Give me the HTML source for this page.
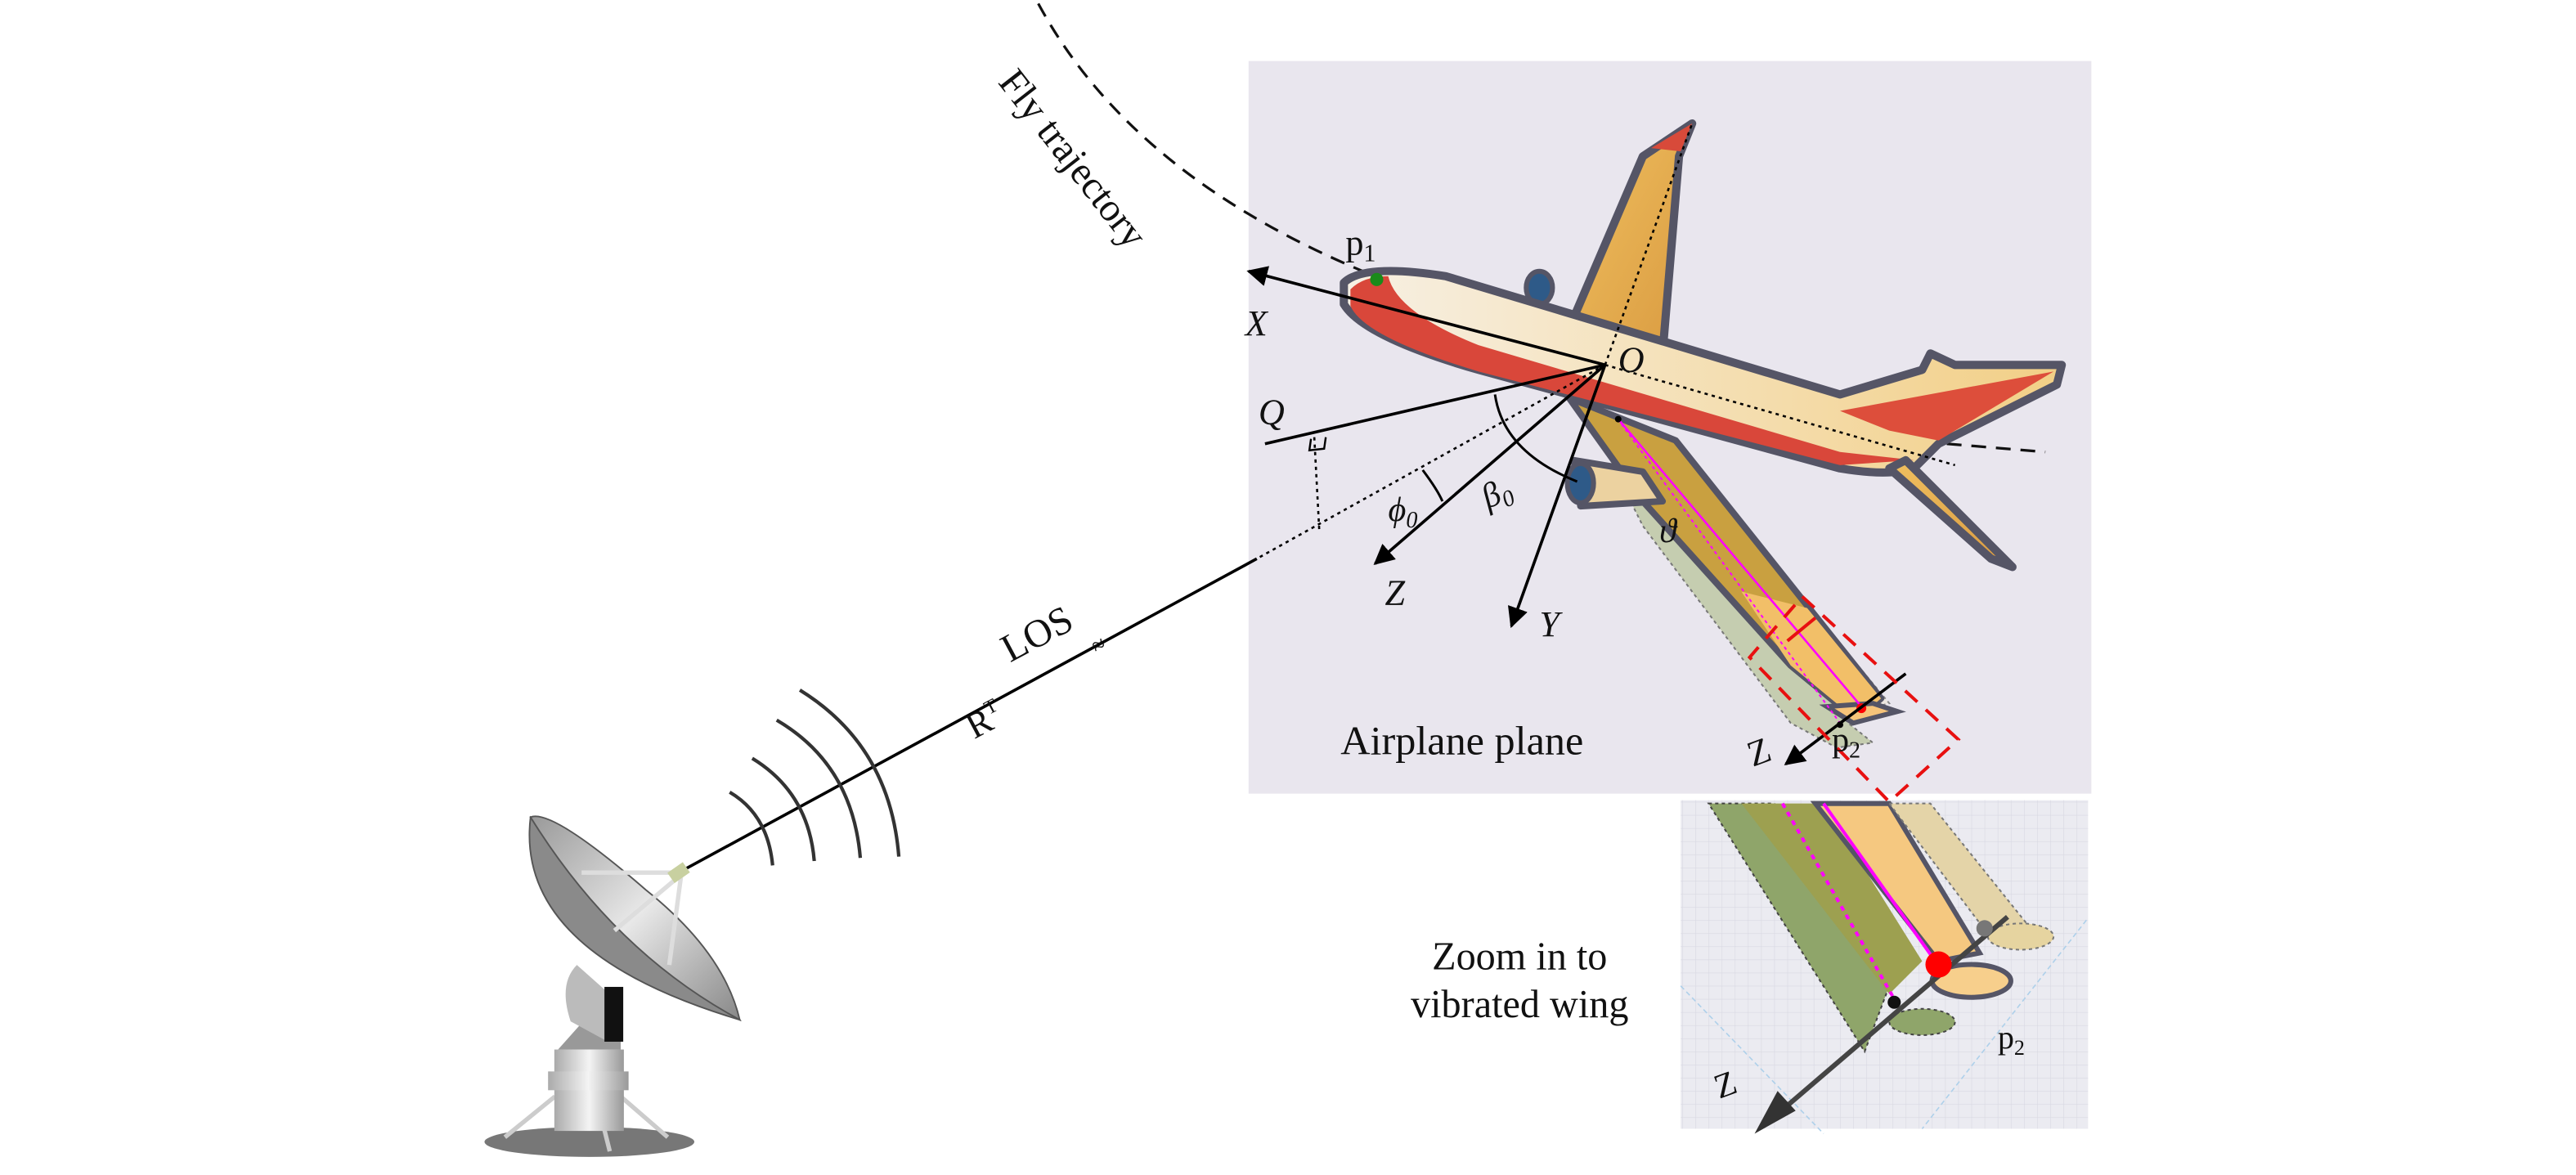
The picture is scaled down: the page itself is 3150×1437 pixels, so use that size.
<!DOCTYPE html>
<html><head><meta charset="utf-8"><style>html,body{margin:0;padding:0;background:#fff}svg{display:block}text{font-family:"Liberation Serif",serif;fill:#111}</style></head><body>
<svg width="3150" height="1437" viewBox="0 0 1568 715" xmlns="http://www.w3.org/2000/svg">
<defs>
<linearGradient id="fus" x1="0" y1="0" x2="1" y2="0"><stop offset="0" stop-color="#f7f0e4"/><stop offset="1" stop-color="#f2cf86"/></linearGradient>
<linearGradient id="wing" x1="0" y1="0" x2="1" y2="1"><stop offset="0" stop-color="#f0c060"/><stop offset="1" stop-color="#d99a40"/></linearGradient>
<linearGradient id="dish" x1="0" y1="0" x2="1" y2="1"><stop offset="0" stop-color="#999"/><stop offset="0.5" stop-color="#e8e8e8"/><stop offset="1" stop-color="#888"/></linearGradient>
<linearGradient id="cyl" x1="0" y1="0" x2="1" y2="0"><stop offset="0" stop-color="#aaa"/><stop offset="0.5" stop-color="#f4f4f4"/><stop offset="1" stop-color="#999"/></linearGradient>
<pattern id="grid" width="8" height="8" patternUnits="userSpaceOnUse"><path d="M8 0H0V8" fill="none" stroke="#d8d8e2" stroke-width="0.6"/></pattern>
<marker id="ar" viewBox="0 0 10 10" refX="9" refY="5" markerWidth="7" markerHeight="7" orient="auto"><path d="M0 0L10 5L0 10z" fill="#000"/></marker>
</defs>
<rect x="760" y="37" width="513" height="446" fill="#e9e6ee"/>
<rect x="1023" y="487" width="248" height="200" fill="#ebebf1"/>
<rect x="1023" y="487" width="248" height="200" fill="url(#grid)"/>
<path d="M632 2 Q690 110 842 170" fill="none" stroke="#111" stroke-width="1.6" stroke-dasharray="9,6"/>
<line x1="1185" y1="270" x2="1245" y2="275" stroke="#111" stroke-width="1.6" stroke-dasharray="9,6"/>
<text x="0" y="0" font-size="24" transform="translate(607,50) rotate(52)">Fly trajectory</text>
<!-- far wing -->
<path d="M955 200 L1000 95 L1030 75 L1022 95 L1012 215 Z" fill="url(#wing)" stroke="#555566" stroke-width="5" stroke-linejoin="round"/>
<path d="M1005 90 L1030 75 L1023 92 Z" fill="#d84a3a"/>
<ellipse cx="937" cy="175" rx="8" ry="10" fill="#2e5a88" stroke="#555566" stroke-width="3"/>
<!-- fuselage -->
<path d="M818 172 Q830 160 880 168 L1120 240 L1170 225 L1175 215 L1190 222 L1255 222 L1252 234 L1180 270 L1165 285 Q1150 290 1120 285 L900 225 Q830 205 818 185 Z" fill="url(#fus)" stroke="#555566" stroke-width="5" stroke-linejoin="round"/>
<path d="M822 176 Q830 168 845 168 Q850 190 900 210 L1120 275 L1165 280 L1120 283 L900 226 Q830 205 822 186 Z" fill="#d9473a"/>
<path d="M1120 250 L1250 226 L1180 268 L1150 262 Z" fill="#dd4e3b"/>
<path d="M1160 280 L1225 345 L1212 340 L1150 285 Z" fill="url(#wing)" stroke="#555566" stroke-width="5" stroke-linejoin="round"/>
<!-- near wing ghosts -->
<path d="M985 290 L1040 330 L1125 440 L1140 452 L1118 455 L1090 440 L1000 320 Z" fill="#c5cdb0" stroke="#777" stroke-width="1" stroke-dasharray="2,2"/>
<path d="M1025 275 L1110 380 L1150 428 L1135 432 L1100 400 Z" fill="#ece6e0" stroke="#888" stroke-width="1" stroke-dasharray="2,2"/>
<!-- near wing -->
<path d="M955 242 L1020 268 L1145 425 L1130 438 L1090 405 L1000 305 Z" fill="#c9a040" stroke="#555566" stroke-width="4" stroke-linejoin="round"/>
<path d="M1060 360 L1090 405 L1130 438 L1145 425 L1100 370 Z" fill="#f2bf68"/>
<path d="M1112 430 L1140 428 L1155 433 L1128 440 Z" fill="#f6c47a" stroke="#555566" stroke-width="3"/>
<!-- engine -->
<path d="M958 280 L1000 287 L1012 305 L962 308 Z" fill="#ecd2a0" stroke="#555566" stroke-width="4" stroke-linejoin="round"/>
<ellipse cx="962" cy="294" rx="8" ry="12" fill="#2e5a88" stroke="#555566" stroke-width="3"/>
<line x1="985" y1="255" x2="1133" y2="430" stroke="#ff00ff" stroke-width="1.3"/>
<line x1="987" y1="258" x2="1120" y2="440" stroke="#ff00ff" stroke-width="1" stroke-dasharray="2,2"/>
<circle cx="985" cy="255" r="2" fill="#000"/>
<circle cx="1133" cy="431" r="3" fill="red"/>
<circle cx="1120" cy="441" r="2" fill="#000"/>
<g stroke="#000" stroke-width="1.8" fill="none">
<line x1="977" y1="222" x2="760" y2="165" marker-end="url(#ar)"/>
<line x1="977" y1="222" x2="770" y2="270"/>
<line x1="977" y1="222" x2="837" y2="343" marker-end="url(#ar)"/>
<line x1="977" y1="222" x2="920" y2="381" marker-end="url(#ar)"/>
<line x1="415" y1="530" x2="765" y2="340"/>
<line x1="1160" y1="410" x2="1087" y2="465" marker-end="url(#ar)"/>
</g>
<g stroke="#000" stroke-width="1.3" fill="none" stroke-dasharray="2,2.5">
<line x1="977" y1="222" x2="765" y2="340"/>
<line x1="977" y1="222" x2="1030" y2="75"/>
<line x1="977" y1="222" x2="1190" y2="283"/>
<line x1="800" y1="266" x2="803" y2="322"/>
</g>
<path d="M798 267 L797 274 L806 273 L807 266" fill="none" stroke="#000" stroke-width="1.2"/>
<path d="M910 240 Q915 275 960 293" fill="none" stroke="#000" stroke-width="1.5"/>
<path d="M866 286 Q875 298 878 305" fill="none" stroke="#000" stroke-width="1.5"/>
<circle cx="838" cy="170" r="4" fill="#1a8a1a"/>
<text x="664" y="395" font-size="14" transform="rotate(-30 672 390)">≈</text>
<g stroke="#333" stroke-width="11" fill="none" transform="scale(0.4977) translate(560 820) scale(0.383)">
<path d="M868 388 Q990 460 1005 622"/>
<path d="M940 280 Q1120 390 1138 608"/>
<path d="M1018 158 Q1260 300 1285 598"/>
<path d="M1092 62 Q1380 240 1408 594"/>
</g>
<g transform="scale(0.4977) translate(560 820) scale(0.383)">
<ellipse cx="420" cy="1505" rx="335" ry="48" fill="#777"/>
<path d="M150 1490 L310 1360 M670 1490 L520 1360 M485 1535 L445 1375" stroke="#ccc" stroke-width="14"/>
<rect x="308" y="1210" width="222" height="260" fill="url(#cyl)"/>
<rect x="288" y="1280" width="257" height="60" fill="url(#cyl)"/>
<path d="M320 1210 L400 1120 L520 1120 L520 1210 Z" fill="#999"/>
<path d="M380 940 Q320 1000 360 1120 L470 1180 L470 1020 Z" fill="#bbb"/>
<rect x="468" y="1010" width="60" height="175" fill="#111"/>
<path d="M232 468 Q180 900 900 1115 Q600 700 232 468 Z" fill="#8a8a8a" stroke="#555" stroke-width="5"/>
<path d="M232 468 Q300 440 600 700 Q850 900 900 1115 Q500 900 232 468 Z" fill="url(#dish)" stroke="#555" stroke-width="5"/>
<path d="M395 645 L715 645 M500 830 L715 650 M675 940 L712 660" stroke="#ddd" stroke-width="14"/>
<rect x="675" y="625" width="60" height="40" fill="#c8d0a0" transform="rotate(-35 705 645)"/>
</g>
<polygon points="1097,363 1192,450 1150,488 1065,400" fill="none" stroke="#e81010" stroke-width="2" stroke-dasharray="10,7"/>
<line x1="1088" y1="390" x2="1105" y2="376" stroke="#e81010" stroke-width="2"/>
<g>
<line x1="1023" y1="600" x2="1110" y2="690" stroke="#aed0ea" stroke-width="0.8" stroke-dasharray="3,2"/>
<line x1="1270" y1="560" x2="1170" y2="687" stroke="#aed0ea" stroke-width="0.8" stroke-dasharray="3,2"/>
<path d="M1040 489 L1080 489 L1150 600 L1135 640 Z" fill="#8fa56a" stroke="#444" stroke-width="1" stroke-dasharray="2,2"/>
<path d="M1060 489 L1110 489 L1170 585 L1150 605 Z" fill="#9da050"/>
<path d="M1105 489 L1150 489 L1205 580 L1180 585 Z" fill="#f5c880" stroke="#555566" stroke-width="3"/>
<path d="M1150 489 L1175 489 L1240 570 L1215 575 Z" fill="#e4d4a8" stroke="#777" stroke-width="1" stroke-dasharray="2,2"/>
<ellipse cx="1230" cy="570" rx="20" ry="8" fill="#e6d4a0" stroke="#777" stroke-width="1" stroke-dasharray="2,2"/>
<ellipse cx="1200" cy="597" rx="24" ry="10" fill="#f7cf8c" stroke="#555566" stroke-width="3"/>
<ellipse cx="1170" cy="622" rx="20" ry="8" fill="#8fa56a" stroke="#444" stroke-width="1" stroke-dasharray="2,2"/>
<line x1="1085" y1="489" x2="1153" y2="608" stroke="#ff00ff" stroke-width="2" stroke-dasharray="3,3"/>
<line x1="1110" y1="489" x2="1178" y2="585" stroke="#ff00ff" stroke-width="2"/>
<line x1="1222" y1="558" x2="1082" y2="678" stroke="#444" stroke-width="3"/>
<path d="M1068 690 L1082 664 L1093 676 Z" fill="#333"/>
<circle cx="1180" cy="587" r="8" fill="red"/>
<circle cx="1153" cy="610" r="4" fill="#111"/>
<circle cx="1208" cy="565" r="5" fill="#777"/>
</g>
<text x="819" y="155" font-size="22">p<tspan font-size="15" dy="4">1</tspan></text>
<text x="758" y="204" font-size="22" font-style="italic">X</text>
<text x="985" y="226" font-size="22" font-style="italic">O</text>
<text x="766" y="258" font-size="22" font-style="italic">Q</text>
<text x="843" y="368" font-size="22" font-style="italic">Z</text>
<text x="937" y="387" font-size="22" font-style="italic">Y</text>
<text x="845" y="317" font-size="21" font-style="italic">ϕ<tspan font-size="14" dy="4">0</tspan></text>
<text x="902" y="307" font-size="21" font-style="italic" transform="rotate(-25 910 300)">β<tspan font-size="14" dy="4">0</tspan></text>
<text x="1010" y="330" font-size="21" font-style="italic">ϑ</text>
<text x="1063" y="465" font-size="22" transform="rotate(-20 1070 455)">Z</text>
<text x="1115" y="457" font-size="21">p<tspan font-size="14" dy="4">2</tspan></text>
<text x="816" y="459" font-size="25">Airplane plane</text>
<text x="608" y="394" font-size="24" transform="rotate(-28 630 385)">LOS</text>
<text x="587" y="446" font-size="22" transform="rotate(-28 598 436)">R<tspan font-size="12" dy="-9">T</tspan></text>
<text x="925" y="590" font-size="24" text-anchor="middle">Zoom in to</text>
<text x="925" y="619" font-size="24" text-anchor="middle">vibrated wing</text>
<text x="1216" y="638" font-size="20">p<tspan font-size="13" dy="4">2</tspan></text>
<text x="1043" y="667" font-size="21" transform="rotate(-20 1050 658)">Z</text>
</svg>
</body></html>
